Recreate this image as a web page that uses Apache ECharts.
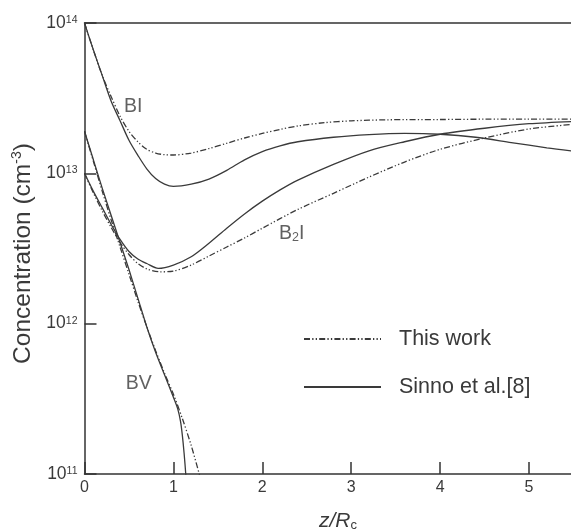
<!DOCTYPE html>
<html>
<head>
<meta charset="utf-8">
<script src="https://cdn.jsdelivr.net/npm/echarts@6/dist/echarts.min.js"></script>
<style>html,body{margin:0;padding:0;background:#fff;}#c{width:571px;height:532px;}</style>
</head>
<body>
<div id="c"></div>
<script>
// ---- data ----
const xBIwork = [0,0.1,0.2,0.3,0.4,0.5,0.6,0.7,0.8,0.9,1.0,1.2,1.4,1.6,1.8,2.0,2.2,2.4,2.7,3.0,3.4,4.0,4.5,5.0,5.5];
const yBIwork = [1e14,6.607e13,4.467e13,3.236e13,2.399e13,1.905e13,1.622e13,1.445e13,1.365e13,1.330e13,1.324e13,1.365e13,1.462e13,1.585e13,1.718e13,1.841e13,1.959e13,2.065e13,2.173e13,2.234e13,2.270e13,2.280e13,2.291e13,2.291e13,2.291e13];

const xBIsinno = [0,0.1,0.2,0.3,0.4,0.5,0.6,0.7,0.8,0.9,1.0,1.2,1.4,1.6,1.8,2.0,2.2,2.4,2.8,3.2,3.6,4.0,4.4,4.8,5.2,5.5];
const yBIsinno = [1e14,6.607e13,4.467e13,3.020e13,2.239e13,1.660e13,1.318e13,1.072e13,9.226e12,8.47e12,8.185e12,8.47e12,9.16e12,1.047e13,1.230e13,1.396e13,1.524e13,1.622e13,1.738e13,1.811e13,1.845e13,1.820e13,1.738e13,1.603e13,1.479e13,1.406e13];

const xB2Iwork = [0,0.1,0.2,0.3,0.4,0.5,0.6,0.7,0.85,1.0,1.2,1.4,1.6,1.8,2.0,2.4,2.8,3.2,3.6,4.0,4.5,5.0,5.5];
const yB2Iwork = [1e13,7.413e12,5.623e12,4.365e12,3.467e12,2.884e12,2.512e12,2.317e12,2.213e12,2.239e12,2.455e12,2.818e12,3.236e12,3.715e12,4.315e12,5.754e12,7.362e12,9.441e12,1.189e13,1.445e13,1.718e13,1.972e13,2.118e13];

const xB2Isinno = [0,0.1,0.2,0.3,0.4,0.5,0.6,0.7,0.83,1.0,1.2,1.4,1.6,1.8,2.0,2.2,2.4,2.8,3.2,3.6,4.0,4.5,5.0,5.5];
const yB2Isinno = [1e13,7.586e12,5.888e12,4.571e12,3.631e12,3.020e12,2.692e12,2.512e12,2.333e12,2.455e12,2.786e12,3.428e12,4.315e12,5.370e12,6.531e12,7.762e12,9.016e12,1.148e13,1.413e13,1.622e13,1.820e13,1.995e13,2.138e13,2.213e13];

const xBVwork = [0,0.1,0.2,0.3,0.4,0.5,0.6,0.7,0.8,0.9,1.0,1.1,1.2,1.3,1.35];
const yBVwork = [1.905e13,1.202e13,7.586e12,4.898e12,3.236e12,2.138e12,1.413e12,9.55e11,6.607e11,4.677e11,3.388e11,2.344e11,1.549e11,9.55e10,7.413e10];

const xBVsinno = [0,0.1,0.2,0.3,0.4,0.5,0.6,0.7,0.8,0.9,1.0,1.05,1.08,1.1,1.12,1.14,1.16];
const yBVsinno = [1.905e13,1.230e13,7.943e12,5.248e12,3.467e12,2.291e12,1.479e12,9.55e11,6.457e11,4.571e11,3.236e11,2.692e11,2.239e11,1.820e11,1.380e11,9.77e10,6.31e10];

const legendNames = ['This work', 'Sinno et al.[8]'];
const annoX = [0.547, 2.33, 0.61];
const annoY = [2.78e13, 3.95e12, 4.0e11];
const annoText = ['BI', 'B{s|2}I', 'BV'];

const xTickMin = 0, xTickMax = 5.5, xTickStep = 1;
const yMin = 1e11, yMax = 1e14;

// ---- chart ----
const zip = (xs, ys) => xs.map((x, i) => [x, ys[i]]);
const FONT = '"Liberation Sans", Arial, sans-serif';
const INK = '#3a3a3a';
const DASHDOT = [6, 2.2, 1.3, 2.2, 1.3, 2.2];

function curve(name, xs, ys, dashed) {
  return {
    type: 'line', name: name, data: zip(xs, ys), showSymbol: false, symbol: 'none',
    smooth: 0.3, clip: true, silent: true,
    lineStyle: { color: INK, width: 1.3, type: dashed ? DASHDOT : 'solid' },
    itemStyle: { color: INK }
  };
}

const chart = echarts.init(document.getElementById('c'), null, { renderer: 'canvas' });
chart.setOption({
  animation: false,
  backgroundColor: '#fff',
  textStyle: { fontFamily: FONT },
  grid: { left: 84.5, right: -2.5, top: 23, bottom: 58, outerBoundsMode: 'none', containLabel: false },
  legend: {
    data: legendNames, orient: 'vertical', left: 298, top: 323,
    itemWidth: 77, itemHeight: 20, itemGap: 26,
    itemStyle: { opacity: 0, borderWidth: 0 },
    textStyle: { fontSize: 21.5, color: INK, fontFamily: FONT, padding: [0, 0, 0, 13] }
  },
  xAxis: [{
    type: 'value', min: xTickMin, max: xTickMax, interval: xTickStep,
    name: 'z/R{sub|c}', nameLocation: 'middle', nameGap: 37,
    nameTextStyle: {
      fontSize: 21, fontStyle: 'italic', color: INK, fontFamily: FONT, padding: [0, 0, 0, 18],
      rich: { sub: { fontSize: 13, fontStyle: 'normal', color: INK, fontFamily: FONT, verticalAlign: 'bottom', lineHeight: 4 } }
    },
    axisLine: { show: true, onZero: false, lineStyle: { color: '#333', width: 1.5 } },
    axisTick: { show: true, inside: true, length: 12, lineStyle: { color: '#333', width: 1.5 } },
    axisLabel: { fontSize: 16, color: INK, margin: 6, fontFamily: FONT,
      formatter: v => (v % 1 === 0 ? String(v) : '') },
    splitLine: { show: false }
  }, {
    type: 'value', position: 'top', min: xTickMin, max: xTickMax,
    axisLine: { show: true, onZero: false, lineStyle: { color: '#333', width: 1.5 } },
    axisTick: { show: false }, axisLabel: { show: false }, splitLine: { show: false }
  }],
  yAxis: {
    type: 'log', logBase: 10, min: yMin, max: yMax,
    name: 'Concentration (cm{sup|-3})', nameLocation: 'middle', nameGap: 49, nameRotate: 90,
    nameTextStyle: {
      fontSize: 24.5, color: INK, fontFamily: FONT, padding: [0, 10, 0, 0],
      rich: { sup: { fontSize: 14, color: INK, fontFamily: FONT, verticalAlign: 'top', lineHeight: 4 } }
    },
    axisLine: { show: true, lineStyle: { color: '#333', width: 1.5 } },
    axisTick: { show: true, inside: true, length: 12, lineStyle: { color: '#333', width: 1.5 } },
    minorTick: { show: false },
    splitLine: { show: false },
    axisLabel: {
      margin: 7, color: INK, fontFamily: FONT,
      formatter: v => '{n|10}{e|' + Math.round(Math.log10(v)) + '}',
      rich: {
        n: { fontSize: 17.5, lineHeight: 17, color: INK, fontFamily: FONT },
        e: { fontSize: 10.5, lineHeight: 3, verticalAlign: 'top', color: INK, fontFamily: FONT }
      }
    }
  },
  series: [
    curve(legendNames[0], xBIwork, yBIwork, true),
    curve(legendNames[1], xBIsinno, yBIsinno, false),
    curve(legendNames[0], xB2Iwork, yB2Iwork, true),
    curve(legendNames[1], xB2Isinno, yB2Isinno, false),
    curve(legendNames[0], xBVwork, yBVwork, true),
    curve(legendNames[1], xBVsinno, yBVsinno, false),
    {
      type: 'scatter', name: 'labels', symbolSize: 1, silent: true,
      itemStyle: { color: 'rgba(0,0,0,0)' },
      data: annoX.map((x, i) => ({ value: [x, annoY[i]], name: annoText[i] })),
      label: {
        show: true, position: 'inside', formatter: p => p.name,
        fontSize: 19.5, color: INK, fontFamily: FONT,
        rich: { s: { fontSize: 12.5, color: INK, fontFamily: FONT, verticalAlign: 'bottom', lineHeight: 4 } }
      }
    }
  ]
});
</script>
</body>
</html>
